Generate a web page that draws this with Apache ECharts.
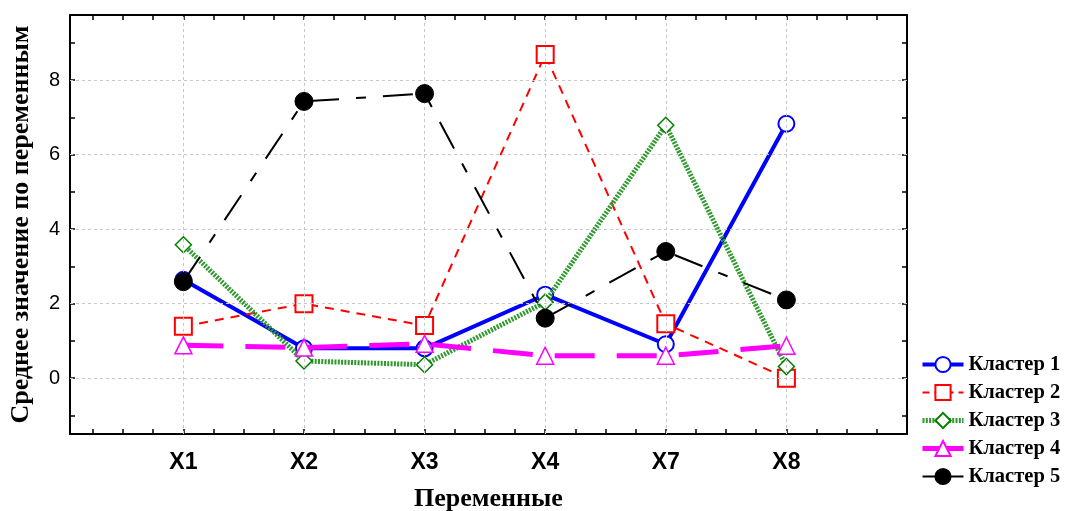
<!DOCTYPE html>
<html><head><meta charset="utf-8">
<script src="https://cdn.jsdelivr.net/npm/echarts@6/dist/echarts.min.js"></script>
<style>html,body{margin:0;padding:0;background:#fff}#c{width:1066px;height:511px}</style>
</head><body><div id="c"></div>
<script>
const categories = ['X1', 'X2', 'X3', 'X4', 'X7', 'X8'];
const seriesNames = ['Кластер 1', 'Кластер 2', 'Кластер 3', 'Кластер 4', 'Кластер 5'];
const cluster1 = [2.64, 0.80, 0.80, 2.24, 0.91, 6.83];
const cluster2 = [1.39, 2.00, 1.41, 8.69, 1.46, 0.00];
const cluster3 = [3.58, 0.46, 0.36, 2.04, 6.79, 0.31];
const cluster4 = [0.88, 0.82, 0.92, 0.60, 0.60, 0.87];
const cluster5 = [2.59, 7.43, 7.64, 1.61, 3.40, 2.10];
const yTickLabels = [0, 2, 4, 6, 8];
const yMinorTicks = [-1, 0, 1, 2, 3, 4, 5, 6, 7, 8, 9];
const xMinorTicks = [0.25,0.5,0.75,1,1.25,1.5,1.75,2,2.25,2.5,2.75,3,3.25,3.5,3.75,4,4.25,4.5,4.75,5,5.25,5.5,5.75,6,6.25,6.5,6.75];
const xPositions = [1, 2, 3, 4, 5, 6];

const toPts = arr => arr.map((v, i) => [xPositions[i], v]);
const serif = 'Liberation Serif';
const sans = 'Liberation Sans';

const chart = echarts.init(document.getElementById('c'));
const gridMarks = xPositions.map(x => ({xAxis: x})).concat(yTickLabels.map(y => ({yAxis: y})));

const styles = [
  {color: '#0000ff', width: 4, type: 'solid', symbol: 'circle', size: 16, fill: '#fff', bw: 2},
  {color: '#ff0000', width: 2, type: [9, 7], symbol: 'rect', size: 17, fill: '#fff', bw: 2},
  {color: '#2e9a2e', width: 5, type: [2, 1.3], symbol: 'diamond', size: 16, fill: '#fff', bw: 1.5, sym: '#008000'},
  {color: '#ff00ff', width: 5, type: [40, 22], symbol: 'triangle', size: 17, fill: '#fff', bw: 1.5},
  {color: '#000000', width: 2, type: [30, 17, 10, 17], symbol: 'circle', size: 18, fill: '#000', bw: 1}
];
const legendDash = ['solid', [7, 5], [2, 1.3], 'solid', 'solid'];
const datas = [cluster1, cluster2, cluster3, cluster4, cluster5];

const series = [{
  type: 'line', data: [], silent: true, z: 1,
  markLine: {silent: true, symbol: ['none', 'none'], label: {show: false},
    lineStyle: {color: '#c8c8c8', type: [3, 3], width: 1}, data: gridMarks}
}];
datas.forEach((d, i) => {
  const s = styles[i];
  series.push({
    name: seriesNames[i], type: 'line', data: toPts(d), z: 2 + i,
    symbol: s.symbol, symbolSize: s.size, showSymbol: true,
    lineStyle: {color: s.color, width: s.width, type: s.type},
    itemStyle: {color: s.fill, borderColor: s.sym || s.color, borderWidth: s.bw},
    emphasis: {disabled: true}
  });
});

chart.setOption({
  animation: false,
  backgroundColor: '#fff',
  grid: {left: 70, right: 159, top: 15, bottom: 77, containLabel: false, outerBoundsMode: 'none'},
  legend: {
    data: seriesNames.map((n, i) => ({name: n, lineStyle: {width: styles[i].width, type: legendDash[i]}})),
    orient: 'vertical', left: 915, top: 349,
    itemWidth: 41, itemHeight: 19, itemGap: 7,
    textStyle: {fontFamily: serif, fontWeight: 'bold', fontSize: 20.5, color: '#000'}
  },
  xAxis: [{
    type: 'value', min: 0.06, max: 7, position: 'bottom',
    name: 'Переменные', nameLocation: 'middle', nameGap: 52,
    nameTextStyle: {fontFamily: serif, fontWeight: 'bold', fontSize: 26, color: '#000'},
    axisLine: {show: true, onZero: false, lineStyle: {color: '#000', width: 2}},
    axisTick: {show: true, inside: true, length: 5, customValues: xMinorTicks, lineStyle: {color: '#000', width: 1.5}},
    axisLabel: {show: true, customValues: xPositions, formatter: v => categories[Math.round(v) - 1] || '',
      fontFamily: sans, fontWeight: 'bold', fontSize: 23, color: '#000', margin: 17},
    splitLine: {show: false}
  }, {
    type: 'value', min: 0.06, max: 7, position: 'top',
    axisLine: {show: true, onZero: false, lineStyle: {color: '#000', width: 2}},
    axisTick: {show: true, inside: true, length: 5, customValues: xMinorTicks, lineStyle: {color: '#000', width: 1.5}},
    axisLabel: {show: false}, splitLine: {show: false}
  }],
  yAxis: [{
    type: 'value', min: -1.5, max: 9.75, position: 'left',
    name: 'Среднее значение по переменным', nameLocation: 'middle', nameGap: 36,
    nameTextStyle: {fontFamily: serif, fontWeight: 'bold', fontSize: 26, color: '#000'},
    axisLine: {show: true, onZero: false, lineStyle: {color: '#000', width: 2}},
    axisTick: {show: true, inside: true, length: 5, customValues: yMinorTicks, lineStyle: {color: '#000', width: 1.5}},
    axisLabel: {show: true, customValues: yTickLabels, fontFamily: sans, fontSize: 20, color: '#000', margin: 10},
    splitLine: {show: false}
  }, {
    type: 'value', min: -1.5, max: 9.75, position: 'right',
    axisLine: {show: true, onZero: false, lineStyle: {color: '#000', width: 2}},
    axisTick: {show: true, inside: true, length: 5, customValues: yMinorTicks, lineStyle: {color: '#000', width: 1.5}},
    axisLabel: {show: false}, splitLine: {show: false}
  }],
  series: series
});
</script>
</body></html>
